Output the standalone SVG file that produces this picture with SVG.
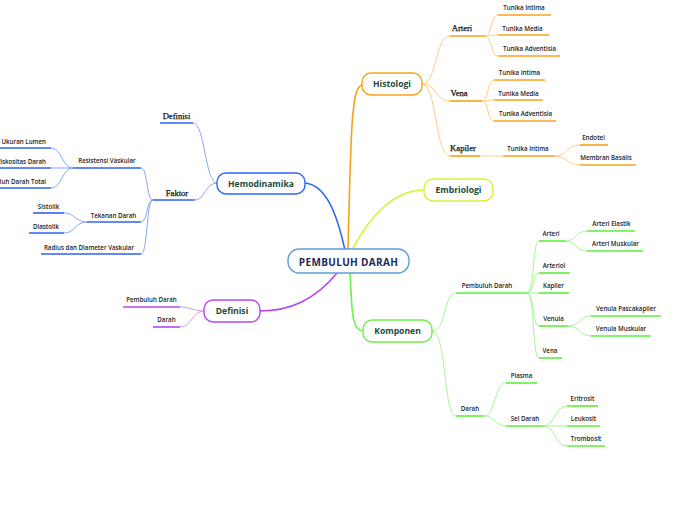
<svg xmlns="http://www.w3.org/2000/svg" width="696" height="520" viewBox="0 0 696 520">
<style>
.bg{fill:#ffffff}
.node rect{fill:#ffffff;stroke-width:1.4}
.nt{font-family:"Open Sans","Noto Sans","DejaVu Sans",sans-serif;font-weight:700;font-size:8.6px;fill:#1d4a3c;text-anchor:middle}
.ct{font-family:"Open Sans","Noto Sans","DejaVu Sans",sans-serif;font-weight:700;font-size:10px;fill:#1b2a5c;text-anchor:middle;letter-spacing:0.35px}
.lb{font-family:"Open Sans","Noto Sans","DejaVu Sans",sans-serif;font-weight:600;font-size:6.2px;fill:#222;text-anchor:middle}
.le{text-anchor:end}
.sf{font-family:"Liberation Serif","Times New Roman",serif;font-size:8.6px;fill:#111;stroke:#111;stroke-width:0.25;text-anchor:middle}
path{fill:none}
.bt{stroke:#86a8f7;stroke-width:1}
.bu{stroke:#2e62f2;stroke-width:1.6}
.ot{stroke:#ffcd85;stroke-width:1}
.ou{stroke:#f7a21b;stroke-width:1.6}
.gt{stroke:#a8f598;stroke-width:1}
.gu{stroke:#5cf03a;stroke-width:1.6}
.pt{stroke:#d898f7;stroke-width:1}
.pu{stroke:#b347f0;stroke-width:1.6}
</style>
<rect class="bg" x="0" y="0" width="696" height="520"/>
<g id="connectors">
  <path d="M305 183 C330 185,340 228,345 250" stroke="#2e66f5" stroke-width="1.6"/>
  <path d="M362 85 C352 88,351 120,348 250" stroke="#f7a21b" stroke-width="1.6"/>
  <path d="M424 190 C392 190,368 220,352 250" stroke="#d8f23a" stroke-width="1.6"/>
  <path d="M350 272 C352 300,350 331,363 331" stroke="#6cf04a" stroke-width="1.6"/>
  <path d="M338 272 C315 300,290 311,260 311" stroke="#b347f0" stroke-width="1.6"/>
  <!-- Hemodinamika -->
  <path class="bt" d="M217 183 C205 183,205 123,193 123"/>
  <path class="bt" d="M217 183 C205 183,205 200,195 200"/>
  <path class="bu" d="M160 123 H193"/>
  <path class="bu" d="M153 200 H195"/>
  <path class="bt" d="M153 200 C146 200,148 168,141 168"/>
  <path class="bt" d="M153 200 C146 200,148 222,141 222"/>
  <path class="bt" d="M153 200 C146 200,148 254,141 254"/>
  <path class="bu" d="M73 168 H141"/>
  <path class="bu" d="M87 222 H141"/>
  <path class="bu" d="M41 254 H141"/>
  <path class="bt" d="M73 168 C62 168,62 148,51 148"/>
  <path class="bt" d="M73 168 H51"/>
  <path class="bt" d="M73 168 C62 168,62 188,51 188"/>
  <path class="bu" d="M0 148 H51"/>
  <path class="bu" d="M0 168 H51"/>
  <path class="bu" d="M0 188 H51"/>
  <path class="bt" d="M87 222 C75 222,75 213,64 213"/>
  <path class="bt" d="M87 222 C75 222,75 233,64 233"/>
  <path class="bu" d="M33 213 H64"/>
  <path class="bu" d="M29 233 H64"/>
  <!-- Histologi -->
  <path class="ot" d="M422 84 C437 84,435 36,450 36"/>
  <path class="ot" d="M422 84 C437 84,435 101,450 101"/>
  <path class="ot" d="M422 84 C437 84,435 156,450 156"/>
  <path class="ou" d="M450 36 H485"/>
  <path class="ou" d="M450 101 H482"/>
  <path class="ou" d="M450 156 H480"/>
  <path class="ot" d="M485 36 C492 36,491 15,498 15"/>
  <path class="ot" d="M485 36 C492 36,491 35,498 35"/>
  <path class="ot" d="M485 36 C492 36,491 56,498 56"/>
  <path class="ou" d="M498 15 H551"/>
  <path class="ou" d="M498 35 H549"/>
  <path class="ou" d="M498 56 H560"/>
  <path class="ot" d="M482 101 C489 101,487 80,494 80"/>
  <path class="ot" d="M482 101 C489 101,487 100,494 100"/>
  <path class="ot" d="M482 101 C489 101,487 121,494 121"/>
  <path class="ou" d="M494 80 H545"/>
  <path class="ou" d="M494 100 H543"/>
  <path class="ou" d="M494 121 H556"/>
  <path class="ot" d="M480 156 H503"/>
  <path class="ou" d="M503 156 H554"/>
  <path class="ot" d="M554 156 C568 156,566 145,580 145"/>
  <path class="ot" d="M554 156 C568 156,566 165,580 165"/>
  <path class="ou" d="M580 145 H608"/>
  <path class="ou" d="M580 165 H636"/>
  <!-- Komponen -->
  <path class="gt" d="M432 331 C447 331,443 293,456 293"/>
  <path class="gt" d="M432 331 C447 331,443 416,456 416"/>
  <path class="gu" d="M456 293 H527"/>
  <path class="gu" d="M456 416 H484"/>
  <path class="gt" d="M527 293 C535 293,532 241,539 241"/>
  <path class="gt" d="M527 293 C535 293,532 273,539 273"/>
  <path class="gt" d="M527 293 H539"/>
  <path class="gt" d="M527 293 C535 293,532 326,539 326"/>
  <path class="gt" d="M527 293 C535 293,532 358,539 358"/>
  <path class="gu" d="M539 241 H565"/>
  <path class="gu" d="M539 273 H570"/>
  <path class="gu" d="M539 293 H569"/>
  <path class="gu" d="M539 326 H568"/>
  <path class="gu" d="M539 358 H562"/>
  <path class="gt" d="M565 241 C577 241,575 231,587 231"/>
  <path class="gt" d="M565 241 C577 241,575 251,587 251"/>
  <path class="gu" d="M587 231 H635"/>
  <path class="gu" d="M587 251 H643"/>
  <path class="gt" d="M568 326 C580 326,579 316,591 316"/>
  <path class="gt" d="M568 326 C580 326,579 336,591 336"/>
  <path class="gu" d="M591 316 H661"/>
  <path class="gu" d="M591 336 H651"/>
  <path class="gt" d="M484 416 C496 416,494 383,506 383"/>
  <path class="gt" d="M484 416 C496 416,494 426,506 426"/>
  <path class="gu" d="M506 383 H537"/>
  <path class="gu" d="M506 426 H543"/>
  <path class="gt" d="M543 426 C556 426,554 406,567 406"/>
  <path class="gt" d="M543 426 H567"/>
  <path class="gt" d="M543 426 C556 426,554 446,567 446"/>
  <path class="gu" d="M567 406 H598"/>
  <path class="gu" d="M567 426 H600"/>
  <path class="gu" d="M567 446 H605"/>
  <!-- Definisi -->
  <path class="pt" d="M204 311 C192 311,192 307,180 307"/>
  <path class="pt" d="M204 311 C192 311,192 327,180 327"/>
  <path class="pu" d="M123 307 H180"/>
  <path class="pu" d="M153 327 H180"/>
</g>
<g id="center" class="node"><rect x="288" y="249" width="121" height="24" rx="11" stroke="#5aa0dc"/><text class="ct" x="348.5" y="265.5">PEMBULUH DARAH</text></g>
<g id="hemodinamika" class="node"><rect x="217" y="173" width="88" height="21" rx="9" stroke="#2e66f5"/><text class="nt" x="261" y="186.8">Hemodinamika</text></g>
<g id="histologi" class="node"><rect x="362" y="73" width="60" height="22" rx="9" stroke="#f7a21b"/><text class="nt" x="392" y="87.3">Histologi</text></g>
<g id="embriologi" class="node"><rect x="424" y="179" width="69" height="22" rx="9" stroke="#d8f23a"/><text class="nt" x="458.5" y="193.3">Embriologi</text></g>
<g id="komponen" class="node"><rect x="363" y="320" width="69" height="22" rx="9" stroke="#6cf04a"/><text class="nt" x="397.5" y="334.3">Komponen</text></g>
<g id="definisi" class="node"><rect x="204" y="300" width="56" height="22" rx="9" stroke="#b347f0"/><text class="nt" x="232" y="314.3">Definisi</text></g>
<g id="h-definisi"><text class="sf" x="176.5" y="118.5">Definisi</text></g>
<g id="h-faktor"><text class="sf" x="177" y="195.5">Faktor</text></g>
<g id="resistensi"><text class="lb" x="107" y="163">Resistensi Vaskular</text></g>
<g id="tekanan"><text class="lb" x="113.5" y="217.5">Tekanan Darah</text></g>
<g id="radius"><text class="lb" x="89" y="249.5">Radius dan Diameter Vaskular</text></g>
<g id="ukuran"><text class="lb le" x="46" y="143.5">Ukuran Lumen</text></g>
<g id="viskositas"><text class="lb le" x="46" y="163.5">Viskositas Darah</text></g>
<g id="jumlah"><text class="lb le" x="46" y="183.5">Pembuluh Darah Total</text></g>
<g id="sistolik"><text class="lb" x="48.5" y="208.5">Sistolik</text></g>
<g id="diastolik"><text class="lb" x="46" y="228.5">Diastolik</text></g>
<g id="hi-arteri"><text class="sf" x="462" y="31">Arteri</text></g>
<g id="hi-vena"><text class="sf" x="459" y="96">Vena</text></g>
<g id="hi-kapiler"><text class="sf" x="463" y="151">Kapiler</text></g>
<g id="a-intima"><text class="lb" x="524" y="10">Tunika Intima</text></g>
<g id="a-media"><text class="lb" x="522.5" y="30.5">Tunika Media</text></g>
<g id="a-adv"><text class="lb" x="529.5" y="50.5">Tunika Adventisia</text></g>
<g id="v-intima"><text class="lb" x="519.5" y="75">Tunika Intima</text></g>
<g id="v-media"><text class="lb" x="518.5" y="95.5">Tunika Media</text></g>
<g id="v-adv"><text class="lb" x="525.5" y="115.5">Tunika Adventisia</text></g>
<g id="k-intima"><text class="lb" x="528" y="150.5">Tunika Intima</text></g>
<g id="endotel"><text class="lb" x="593.5" y="139.5">Endotel</text></g>
<g id="membran"><text class="lb" x="606" y="159.5">Membran Basalis</text></g>
<g id="k-pembuluh"><text class="lb" x="487" y="288">Pembuluh Darah</text></g>
<g id="k-darah"><text class="lb" x="470" y="411">Darah</text></g>
<g id="p-arteri"><text class="lb" x="551" y="236">Arteri</text></g>
<g id="p-arteriol"><text class="lb" x="554" y="268">Arteriol</text></g>
<g id="p-kapiler"><text class="lb" x="553.5" y="288">Kapiler</text></g>
<g id="p-venula"><text class="lb" x="553.5" y="321">Venula</text></g>
<g id="p-vena"><text class="lb" x="550" y="353">Vena</text></g>
<g id="elastik"><text class="lb" x="611.5" y="226">Arteri Elastik</text></g>
<g id="muskular"><text class="lb" x="615.5" y="246">Arteri Muskular</text></g>
<g id="pascakapiler"><text class="lb" x="626" y="311">Venula Pascakapiler</text></g>
<g id="venula-musk"><text class="lb" x="621" y="331">Venula Muskular</text></g>
<g id="plasma"><text class="lb" x="521.5" y="378">Plasma</text></g>
<g id="sel-darah"><text class="lb" x="525" y="421">Sel Darah</text></g>
<g id="eritrosit"><text class="lb" x="582.5" y="401">Eritrosit</text></g>
<g id="leukosit"><text class="lb" x="583.5" y="421">Leukosit</text></g>
<g id="trombosit"><text class="lb" x="586" y="441">Trombosit</text></g>
<g id="d-pembuluh"><text class="lb" x="151.5" y="302">Pembuluh Darah</text></g>
<g id="d-darah"><text class="lb" x="166.5" y="322">Darah</text></g>
</svg>
